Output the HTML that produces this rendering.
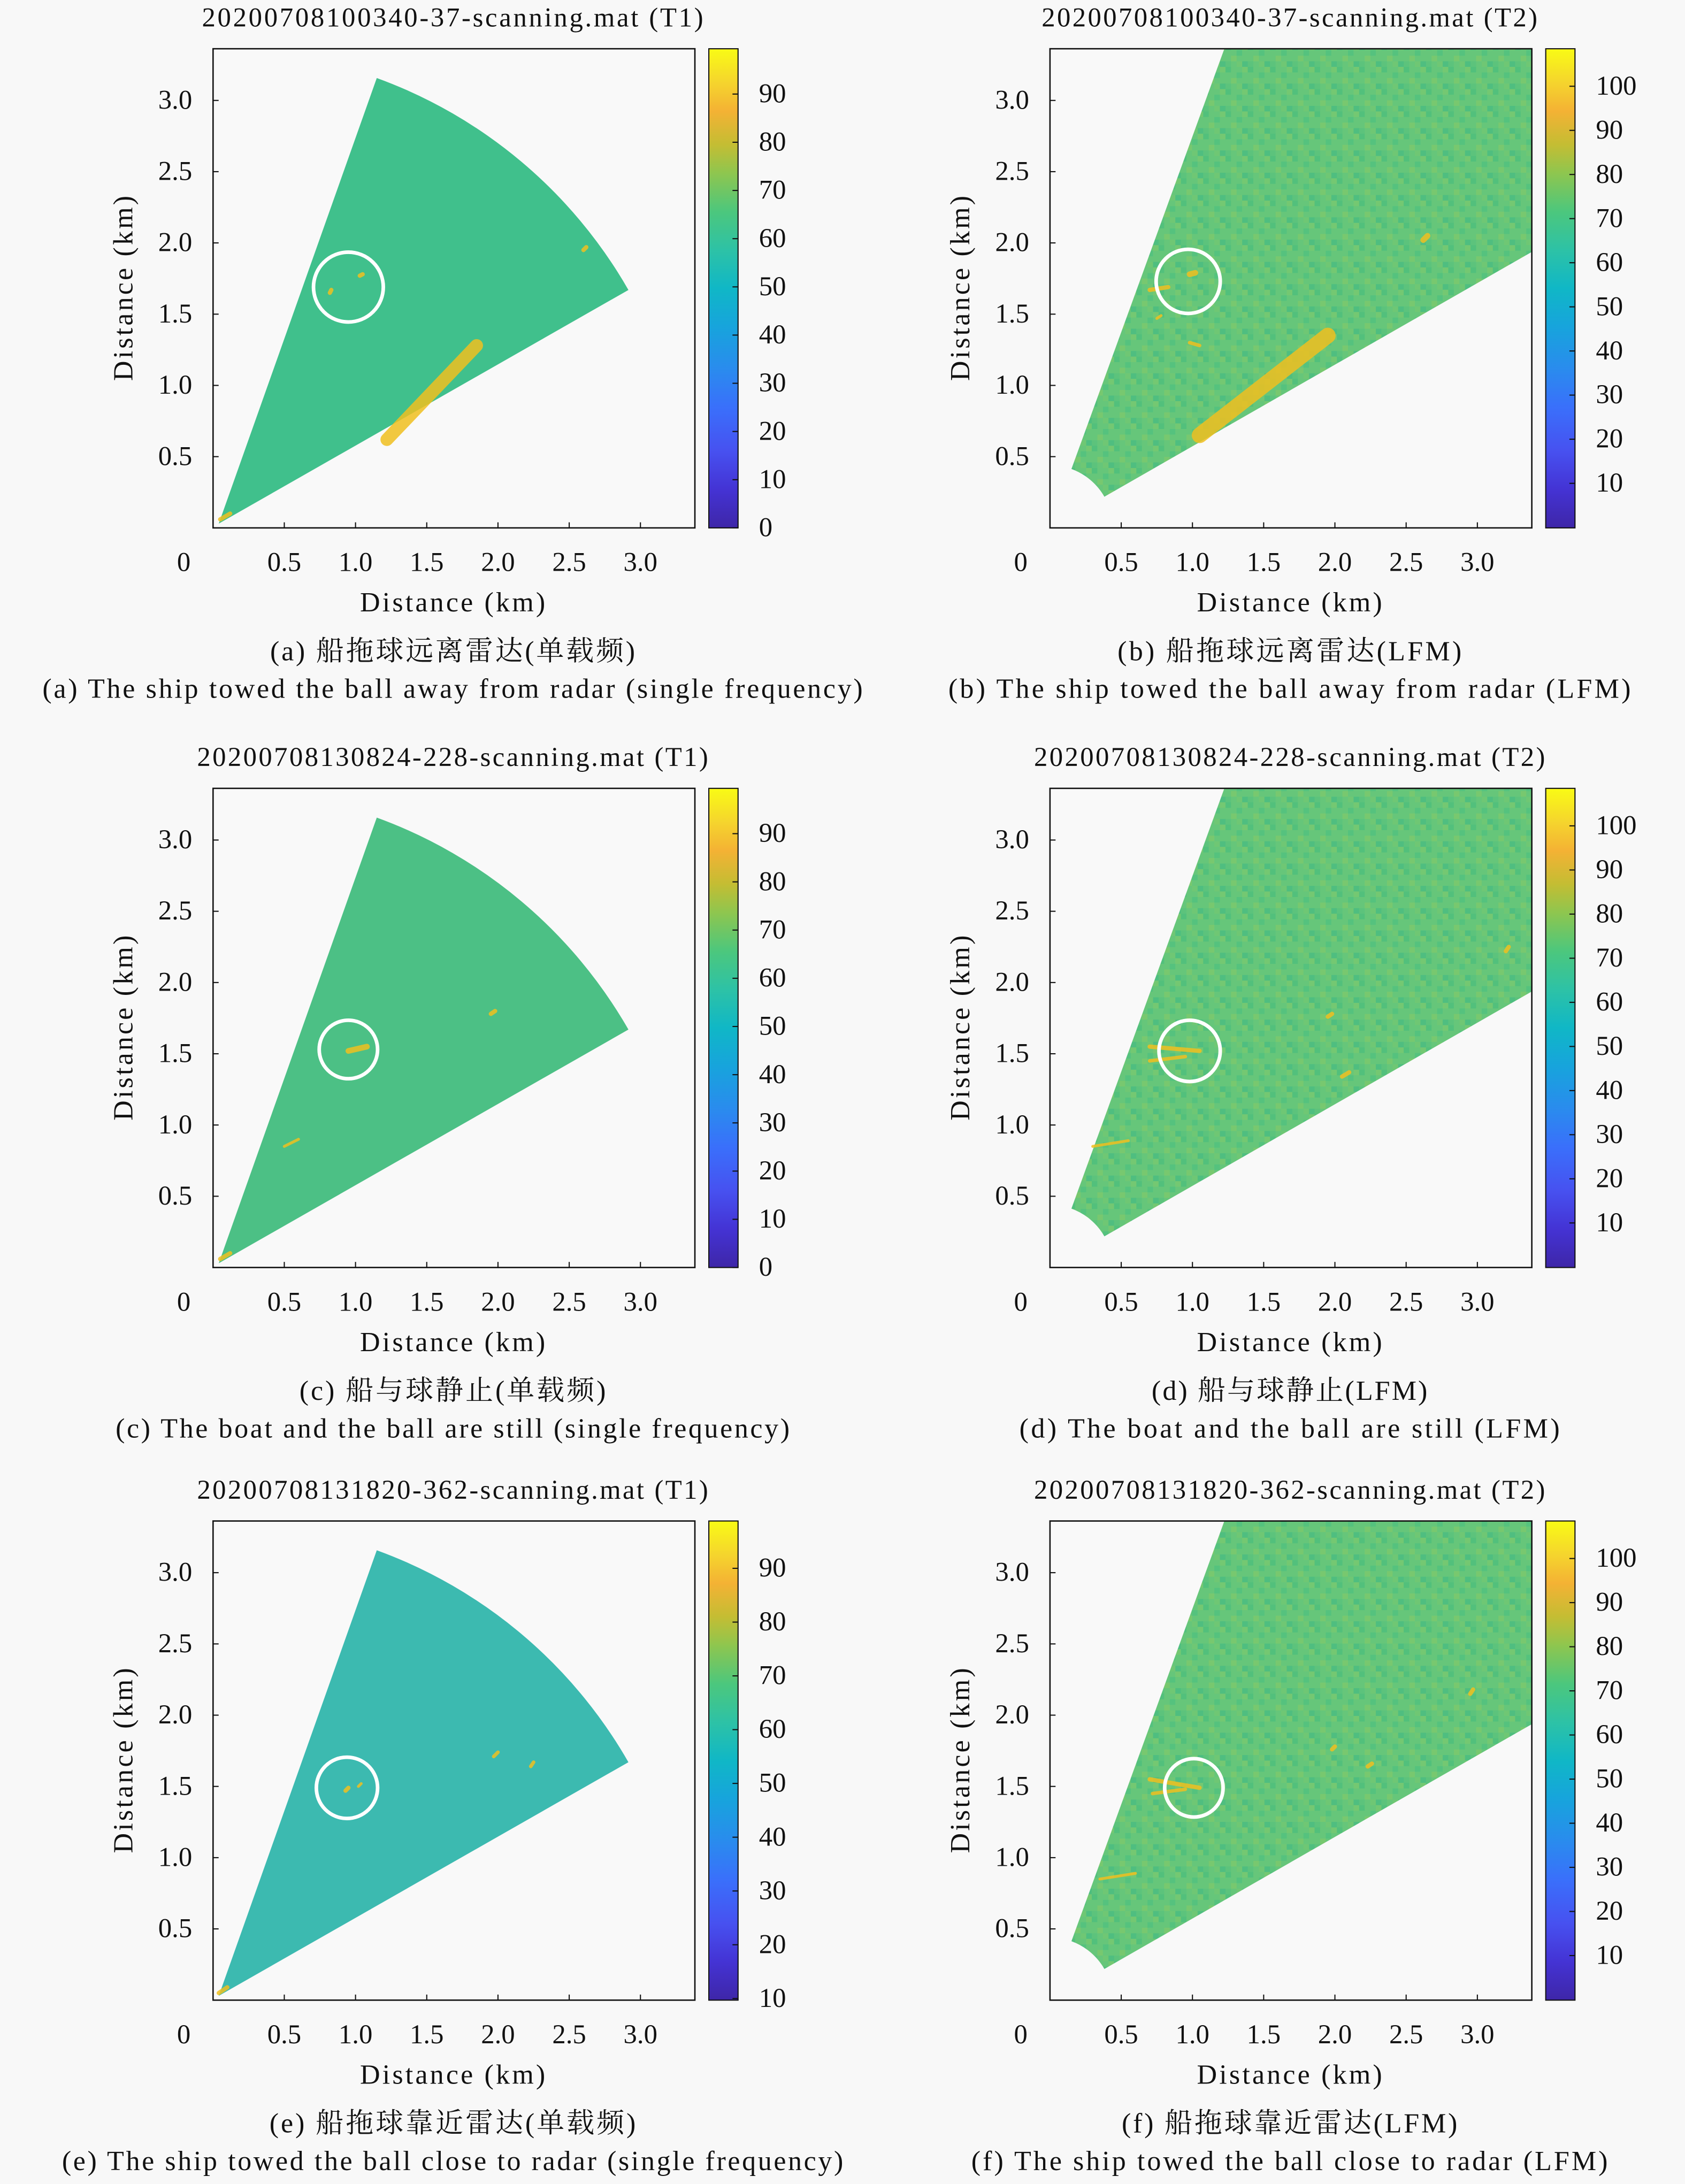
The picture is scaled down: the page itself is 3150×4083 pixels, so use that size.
<!DOCTYPE html>
<html><head><meta charset="utf-8">
<style>
html,body{margin:0;padding:0;background:#f8f8f8;}
svg{display:block;}
text{font-family:"Liberation Serif","Noto Serif CJK SC",serif;fill:#111;}
</style></head>
<body>
<svg id="fig" xmlns="http://www.w3.org/2000/svg" width="3150" height="4083" viewBox="0 0 1210 1568" preserveAspectRatio="none">
<defs>
<linearGradient id="parula" x1="0" y1="1" x2="0" y2="0">
<stop offset="0" stop-color="#3e26a8"/><stop offset="0.08" stop-color="#4433d4"/>
<stop offset="0.16" stop-color="#4751f0"/><stop offset="0.25" stop-color="#3a6ffb"/>
<stop offset="0.33" stop-color="#2a8bee"/><stop offset="0.42" stop-color="#17a4dc"/>
<stop offset="0.5" stop-color="#10b7c6"/><stop offset="0.58" stop-color="#2dc2a6"/>
<stop offset="0.66" stop-color="#4cc77d"/><stop offset="0.74" stop-color="#8ec64f"/>
<stop offset="0.8" stop-color="#c4bd33"/><stop offset="0.87" stop-color="#f4b234"/>
<stop offset="0.93" stop-color="#f5d52d"/><stop offset="1" stop-color="#f9fb15"/>
</linearGradient>
<pattern id="noiseB" width="16" height="16" patternUnits="userSpaceOnUse">
<rect width="16" height="16" fill="#66c67a"/>
<rect x="0" y="0" width="4" height="4" fill="#52c07c"/><rect x="8" y="4" width="4" height="4" fill="#55c27e"/>
<rect x="4" y="8" width="4" height="4" fill="#78c86f"/><rect x="12" y="12" width="4" height="4" fill="#4fbe80"/>
<rect x="12" y="0" width="4" height="4" fill="#74c872"/><rect x="0" y="12" width="4" height="4" fill="#5cc37c"/>
<rect x="8" y="12" width="4" height="4" fill="#6fc774"/>
</pattern>
</defs>
<rect width="1210" height="1568" fill="#f8f8f8"/>
<g id="root"></g>
</svg>
<script>
const NS='http://www.w3.org/2000/svg';
const xTicks=[0.5,1.0,1.5,2.0,2.5,3.0];
const yTicks=[0.5,1.0,1.5,2.0,2.5,3.0];
const cbTicksT1=[0,10,20,30,40,50,60,70,80,90];
const cbTicksT1e=[10,20,30,40,50,60,70,80,90];
const cbTicksT2=[10,20,30,40,50,60,70,80,90,100];
const cbRangeT1=[0,99.4];
const cbRangeT1e=[9.7,98.8];
const cbRangeT2=[-0.1,108.5];
const titles=['20200708100340-37-scanning.mat (T1)','20200708100340-37-scanning.mat (T2)','20200708130824-228-scanning.mat (T1)','20200708130824-228-scanning.mat (T2)','20200708131820-362-scanning.mat (T1)','20200708131820-362-scanning.mat (T2)'];
const titleW=[360,356,367,367,367,367];
const capsCN=['(a) 船拖球远离雷达(单载频)','(b) 船拖球远离雷达(LFM)','(c) 船与球静止(单载频)','(d) 船与球静止(LFM)','(e) 船拖球靠近雷达(单载频)','(f) 船拖球靠近雷达(LFM)'];
const capsCNW=[262,247,220,198,263,241];
const capsEN=['(a) The ship towed the ball away from radar (single frequency)','(b) The ship towed the ball away from radar (LFM)','(c) The boat and the ball are still (single frequency)','(d) The boat and the ball are still (LFM)','(e) The ship towed the ball close to radar (single frequency)','(f) The ship towed the ball close to radar (LFM)'];
const capsENW=[589,490,484,388,561,457];
const fills=['#40c08c','url(#noiseB)','#4cc085','url(#noiseB)','#3cbab0','url(#noiseB)'];
// target circles [xkm, ykm, rkm]
const circles=[[0.95,1.69,0.245],[0.97,1.73,0.225],[0.95,1.53,0.205],[0.98,1.52,0.215],[0.94,1.49,0.215],[1.01,1.49,0.205]];
// hot spots [x1,y1,x2,y2,width km]
const streaks=[
 [[1.22,0.62,1.85,1.28,0.09],[0.82,1.65,0.83,1.67,0.03],[1.03,1.77,1.05,1.78,0.03],[2.6,1.95,2.62,1.97,0.03],[0.05,0.06,0.12,0.1,0.03]],
 [[1.05,0.65,1.95,1.35,0.11],[0.98,1.78,1.02,1.79,0.04],[0.7,1.67,0.83,1.69,0.03],[2.62,2.02,2.65,2.05,0.04],[0.98,1.3,1.05,1.28,0.025],[0.75,1.47,0.78,1.49,0.02]],
 [[0.95,1.52,1.08,1.55,0.04],[0.5,0.85,0.6,0.9,0.02],[0.05,0.06,0.12,0.1,0.03],[1.95,1.78,1.98,1.8,0.03]],
 [[0.7,1.55,1.05,1.52,0.03],[0.7,1.45,0.95,1.48,0.025],[0.3,0.85,0.55,0.89,0.02],[2.05,1.34,2.1,1.37,0.03],[1.95,1.76,1.98,1.78,0.03],[3.2,2.22,3.22,2.25,0.03]],
 [[0.93,1.47,0.95,1.49,0.03],[1.02,1.5,1.04,1.52,0.02],[1.97,1.71,2.0,1.74,0.025],[2.23,1.64,2.25,1.67,0.025],[0.04,0.05,0.1,0.09,0.03]],
 [[0.7,1.55,1.05,1.49,0.03],[0.72,1.45,0.95,1.48,0.025],[0.35,0.85,0.6,0.89,0.02],[1.98,1.76,2.0,1.78,0.03],[2.23,1.64,2.26,1.66,0.03],[2.95,2.15,2.97,2.18,0.03]]
];
const S=102.3;
const panelPos=[[153,35],[754,35],[153,566],[754,566],[153,1092],[754,1092]];
const root=document.getElementById('root');
function mk(tag,attrs,parent){const e=document.createElementNS(NS,tag);for(const k in attrs)e.setAttribute(k,attrs[k]);(parent||root).appendChild(e);return e;}
function txt(s,attrs,parent){const e=mk('text',attrs,parent);e.textContent=s;return e;}

panelPos.forEach((p,i)=>{
 const ox=p[0],oy=p[1],W=346,H=344,by=oy+H;
 const isT2=i%2===1;
 const sx=v=>ox+v*S, sy=v=>by-v*S;
 const g=mk('g',{});
 
 
 const cid='clip'+i;
 const cp=mk('clipPath',{id:cid},g);mk('rect',{x:ox,y:oy,width:W,height:H},cp);
 mk('rect',{x:ox,y:oy,width:W,height:H,fill:'#f9f9f9'},g);
 const dg=mk('g',{'clip-path':'url(#'+cid+')'},g);
 let d;
 const a1=70*Math.PI/180,a2=29.8*Math.PI/180;
 if(!isT2){
  const R=3.36,ax=0.04,ay=0.03;
  d=`M${sx(ax)},${sy(ay)} L${sx(R*Math.cos(a1))},${sy(R*Math.sin(a1))} A${R*S},${R*S} 0 0 1 ${sx(R*Math.cos(a2))},${sy(R*Math.sin(a2))} Z`;
 } else {
  const r=0.44,R=6;
  d=`M${sx(r*Math.cos(a1))},${sy(r*Math.sin(a1))} L${sx(R*Math.cos(a1))},${sy(R*Math.sin(a1))} L${sx(R*Math.cos(a2))},${sy(R*Math.sin(a2))} L${sx(r*Math.cos(a2))},${sy(r*Math.sin(a2))} A${r*S},${r*S} 0 0 0 ${sx(r*Math.cos(a1))},${sy(r*Math.sin(a1))} Z`;
 }
 const sec=mk('path',{d:d,fill:fills[i]},dg);
 
 
 streaks[i].forEach(s=>{
  const l=mk('line',{x1:sx(s[0]),y1:sy(s[1]),x2:sx(s[2]),y2:sy(s[3]),stroke:'#f0c020','stroke-width':s[4]*S,'stroke-linecap':'round',opacity:0.85},dg);
  
  
 });
 const c=circles[i];
 const ce=mk('circle',{cx:sx(c[0]),cy:sy(c[1]),r:c[2]*S,fill:'none',stroke:'#fff','stroke-width':2.6},dg);
 
 
 mk('rect',{x:ox,y:oy,width:W,height:H,fill:'none',stroke:'#111','stroke-width':1},g);
 xTicks.forEach(v=>{mk('line',{x1:sx(v),x2:sx(v),y1:by,y2:by-4,stroke:'#111','stroke-width':0.8},g);
  const t=txt(v.toFixed(1),{x:sx(v),y:by+31,'font-size':19.5,'text-anchor':'middle'},g);
  });
 yTicks.forEach(v=>{mk('line',{x1:ox,x2:ox+4,y1:sy(v),y2:sy(v),stroke:'#111','stroke-width':0.8},g);
  const t=txt(v.toFixed(1),{x:ox-15,y:sy(v)+6,'font-size':19.5,'text-anchor':'end'},g);
  });
 txt('0',{x:ox-21,y:by+31,'font-size':19.5,'text-anchor':'middle'},g);
 const xl=txt('Distance (km)',{x:ox+172,y:by+60,'font-size':20,'text-anchor':'middle',textLength:133,lengthAdjust:'spacing'},g);
 
 const yl=txt('Distance (km)',{x:0,y:0,'font-size':20,'text-anchor':'middle',textLength:133,lengthAdjust:'spacing',transform:`translate(${ox-58},${oy+172}) rotate(-90)`},g);
 
 const tt=txt(titles[i],{x:ox+172,y:oy-16,'font-size':19.5,'text-anchor':'middle',textLength:titleW[i],lengthAdjust:'spacing'},g);
 
 const cbx=ox+356;
 const cb=mk('rect',{x:cbx,y:oy,width:21,height:H,fill:'url(#parula)',stroke:'#111','stroke-width':0.8},g);
 
 const ticks=isT2?cbTicksT2:(i===4?cbTicksT1e:cbTicksT1);
 const rng=isT2?cbRangeT2:(i===4?cbRangeT1e:cbRangeT1);
 ticks.forEach(v=>{const y=by-(v-rng[0])/(rng[1]-rng[0])*H;
  mk('line',{x1:cbx+17,x2:cbx+21,y1:y,y2:y,stroke:'#111','stroke-width':0.8},g);
  const t=txt(String(v),{x:cbx+36,y:y+6,'font-size':19.5},g);
  });
 const c1=txt(capsCN[i],{x:ox+172,y:by+95,'font-size':20,'text-anchor':'middle',textLength:capsCNW[i],lengthAdjust:'spacing'},g);
 
 const c2=txt(capsEN[i],{x:ox+172,y:by+122,'font-size':20,'text-anchor':'middle',textLength:capsENW[i],lengthAdjust:'spacing'},g);
 
});
</script>
</body></html>
